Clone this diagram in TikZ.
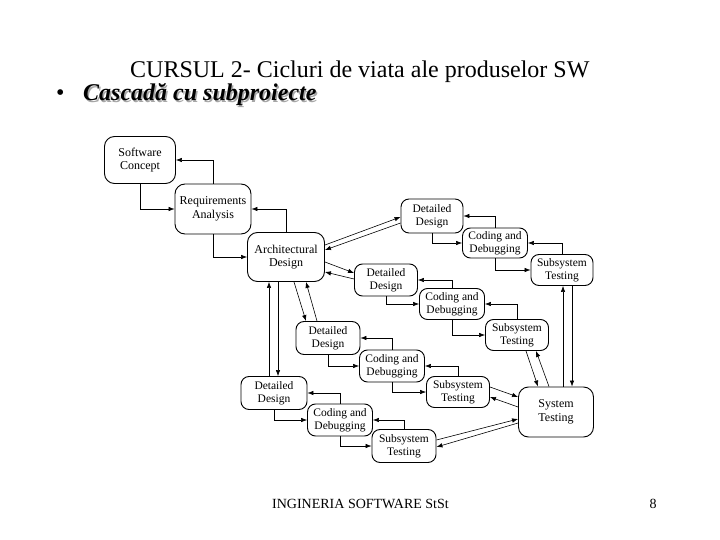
\documentclass[tikz,border=0pt]{standalone}
\usepackage{fontspec}
\setmainfont{Liberation Serif}
\usetikzlibrary{arrows.meta}
\begin{document}
\begin{tikzpicture}[x=1pt,y=-1pt,
  box/.style={draw, rounded corners=8pt, line width=0.9pt, align=center, inner sep=0pt,
    font=\fontsize{11.5}{13}\selectfont},
  bigbox/.style={box, rounded corners=10pt, font=\fontsize{12}{13.5}\selectfont},
  arr/.style={-{Latex[length=6pt,width=4.5pt]}, line width=0.6pt},
  ttl/.style={anchor=base west, inner sep=0pt}]
\useasboundingbox (0,0) rectangle (720,540);

% titles
\node[ttl, font=\fontsize{24}{28}\selectfont] (title) at (130,78) {CURSUL 2- Cicluri de viata ale produselor SW};
\node[ttl, font=\fontsize{24}{28}\selectfont] (bul) at (56,101) {•};
\node[ttl, font=\fontsize{24}{28}\selectfont\bfseries\itshape, text=black!35] (subsh) at (84.5,102.5) {Cascadă cu subproiecte};
\node[ttl, font=\fontsize{24}{28}\selectfont\bfseries\itshape] (sub) at (83,101) {Cascadă cu subproiecte};
\node[ttl, font=\fontsize{14}{16}\selectfont] (foot) at (272,508) {INGINERIA SOFTWARE StSt};
\node[anchor=base, inner sep=0pt, font=\fontsize{14}{16}\selectfont] (pg) at (653,508) {8};

% main cascade
\node[bigbox, minimum width=71pt, minimum height=47pt] (sc) at (140,160) {Software\\Concept};
\node[bigbox, minimum width=76pt, minimum height=50pt] (ra) at (213,209) {Requirements\\Analysis};
\node[bigbox, minimum width=77pt, minimum height=49pt] (ad) at (286,257) {Architectural\\Design};
\node[bigbox, minimum width=75pt, minimum height=50pt] (sys) at (556,412) {System\\Testing};

% subprojects
\node[box, minimum width=62pt, minimum height=34pt] (dd1) at (432,216) {Detailed\\Design};
\node[box, minimum width=65pt, minimum height=30pt] (cd1) at (495,243) {Coding and\\Debugging};
\node[box, minimum width=62pt, minimum height=31pt] (st1) at (562,270) {Subsystem\\Testing};

\node[box, minimum width=63pt, minimum height=32pt] (dd2) at (386,280) {Detailed\\Design};
\node[box, minimum width=65pt, minimum height=31pt] (cd2) at (452,304) {Coding and\\Debugging};
\node[box, minimum width=63pt, minimum height=31pt] (st2) at (517,335) {Subsystem\\Testing};

\node[box, minimum width=64pt, minimum height=33pt] (dd3) at (328,338) {Detailed\\Design};
\node[box, minimum width=65pt, minimum height=32pt] (cd3) at (392,366) {Coding and\\Debugging};
\node[box, minimum width=63pt, minimum height=31pt] (st3) at (458,392) {Subsystem\\Testing};

\node[box, minimum width=66pt, minimum height=33pt] (dd4) at (274,393) {Detailed\\Design};
\node[box, minimum width=65pt, minimum height=32pt] (cd4) at (340,420) {Coding and\\Debugging};
\node[box, minimum width=64pt, minimum height=33pt] (st4) at (404,446) {Subsystem\\Testing};

% cascade connectors
\foreach \a/\b in {sc/ra, ra/ad, dd1/cd1, cd1/st1, dd2/cd2, cd2/st2, dd3/cd3, cd3/st3, dd4/cd4, cd4/st4}{
  \draw[arr] (\a.south) |- (\b.west);
  \draw[arr] (\b.north) |- (\a.east);
}

% architectural design <-> detailed designs
\draw[arr] ([yshift=12pt]ad.east) -- ([yshift=-1pt]dd1.west);
\draw[arr] ([yshift=-7pt]dd1.west) -- ([yshift=7pt]ad.east);
\draw[arr] ([yshift=-5pt]ad.east) -- ([yshift=7pt]dd2.west);
\draw[arr] ([yshift=1pt]dd2.west) -- ([yshift=-15pt]ad.east);
\draw[arr] ([xshift=8pt]ad.south) -- ([xshift=-22pt]dd3.north);
\draw[arr] ([xshift=-11pt]dd3.north) -- ([xshift=20pt]ad.south);
\draw[arr] ([xshift=-8pt]ad.south) -- ([xshift=-8pt]ad.south |- dd4.north);
\draw[arr] ([xshift=-17pt]ad.south |- dd4.north) -- ([xshift=-17pt]ad.south);

% subsystem testings <-> system testing
\draw[arr] ([xshift=10pt]st1.south) -- ([xshift=10pt]st1.south |- sys.north);
\draw[arr] ([xshift=1pt]st1.south |- sys.north) -- ([xshift=1pt]st1.south);
\draw[arr] ([xshift=9pt]st2.south) -- ([xshift=-18pt]sys.north);
\draw[arr] ([xshift=-7pt]sys.north) -- ([xshift=19pt]st2.south);
\draw[arr] ([yshift=5pt]st3.east) -- ([yshift=15pt]sys.west);
\draw[arr] ([yshift=5pt]sys.west) -- ([yshift=-5pt]st3.east);
\draw[arr] ([yshift=6pt]st4.east) -- ([yshift=-7pt]sys.west);
\draw[arr] ([yshift=-11pt]sys.west) -- ([yshift=-1pt]st4.east);
\end{tikzpicture}
\end{document}
